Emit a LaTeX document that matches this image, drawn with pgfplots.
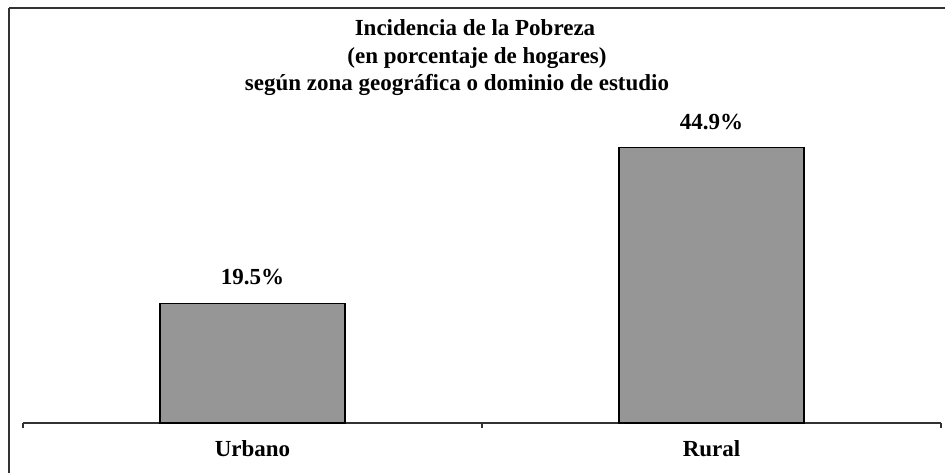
\documentclass[border=0pt]{standalone}
\usepackage{fontspec}
\setmainfont{Liberation Serif}
\usepackage{pgfplots}
\pgfplotsset{compat=1.18}
\definecolor{bargray}{RGB}{150,150,150}
\definecolor{framegray}{RGB}{50,50,50}
\newcommand{\tf}{\fontsize{11.5}{13.8}\selectfont\bfseries}
\begin{document}
\begin{tikzpicture}[x=0.5pt,y=0.5pt]
\useasboundingbox (0,0) rectangle (945,473);
\draw[framegray,line width=0.6pt] (9,0) -- (9,465.5);
\draw[framegray,line width=1pt] (9,465.5) -- (945,465.5);
\node[anchor=base,font=\tf] at (475,473-35) {Incidencia de la Pobreza};
\node[anchor=base,font=\tf] at (477,473-63) {(en porcentaje de hogares)};
\node[anchor=base,font=\tf] at (457,473-90) {según zona geográfica o dominio de estudio};
\begin{axis}[
  at={(11.5pt,25pt)}, anchor=south west,
  scale only axis, width=459pt, height=153.25pt,
  xmin=0, xmax=2, ymin=0, ymax=50,
  axis x line*=bottom, axis y line=none,
  axis line style={framegray,line width=0.6pt},
  xtick={0.5,1.5}, xticklabels={Urbano,Rural},
  major tick length=0pt,
  minor xtick={0,1,2}, minor tick length=2.5pt,
  tick align=outside,
  minor tick style={framegray,line width=0.6pt},
  xticklabel style={anchor=base,yshift=-16.5pt,font=\tf},
  clip=false,
  ybar, bar width=0.403,
  /pgf/number format/assume math mode=true,
  nodes near coords={\pgfmathprintnumber[fixed,precision=1,fixed zerofill]{\pgfplotspointmeta}\%},
  every node near coord/.append style={anchor=base,yshift=9.3pt,font=\tf,inner sep=0pt},
]
\addplot[fill=bargray,draw=black,line width=0.6pt] coordinates {(0.5,19.5) (1.5,44.9)};
\end{axis}
\end{tikzpicture}
\end{document}
